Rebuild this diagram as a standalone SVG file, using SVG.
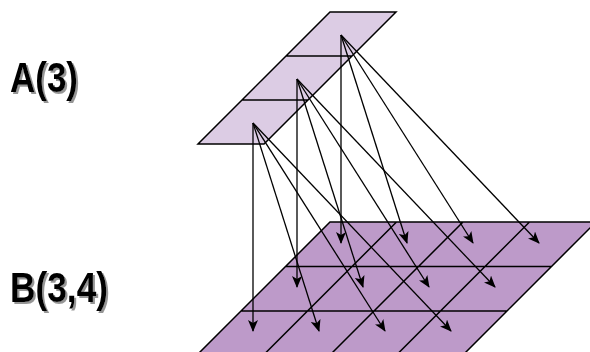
<svg xmlns="http://www.w3.org/2000/svg" width="590" height="352" viewBox="0 0 590 352">
<style>
.lbl{font-family:"Liberation Sans",Arial,sans-serif;font-weight:bold;font-size:42px;fill:#000;filter:url(#shadow)}
.grid{stroke:#000;stroke-width:1.5;fill:none}
.arr{stroke:#000;stroke-width:1.3;fill:none;marker-end:url(#ah)}
</style>
<defs>
<filter id="shadow" x="-10%" y="-20%" width="130%" height="150%">
<feDropShadow dx="2" dy="2" stdDeviation="0.6" flood-color="#8a8a8a" flood-opacity="0.9"/>
</filter>
<marker id="ah" markerUnits="userSpaceOnUse" markerWidth="12" markerHeight="10" viewBox="0 0 12 10" refX="11" refY="5" orient="auto">
<path d="M0,0 L12,5 L0,10 L3,5 z" fill="#000"/>
</marker>
</defs>
<g id="label-A">
<text class="lbl" x="10" y="92" textLength="68" lengthAdjust="spacingAndGlyphs">A(3)</text>
</g>
<g id="label-B">
<text class="lbl" x="10" y="302" textLength="98" lengthAdjust="spacingAndGlyphs">B(3,4)</text>
</g>
<g id="B">
<path d="M330,222 L596,222 L462.5,355.5 L196.5,355.5 Z" fill="#bd9ac9"/>
<path class="grid" d="M330,222 L596,222 L462.5,355.5 L196.5,355.5 Z M285.5,266.5 L551.5,266.5 M241,311 L507,311 M396.5,222 L263,355.5 M463,222 L329.5,355.5 M529.5,222 L396,355.5"/>
</g>
<g id="A">
<path d="M330,12 L396,12 L264,144 L198,144 Z" fill="#dccce4"/>
<path class="grid" d="M330,12 L396,12 L264,144 L198,144 Z M286,56 L352,56 M242,100 L308,100"/>
</g>
<g id="connectors">
<line class="arr" x1="341" y1="35" x2="341" y2="243"/>
<line class="arr" x1="341" y1="35" x2="407" y2="243"/>
<line class="arr" x1="341" y1="35" x2="473" y2="243"/>
<line class="arr" x1="341" y1="35" x2="539" y2="243"/>
<line class="arr" x1="297" y1="79" x2="297" y2="287"/>
<line class="arr" x1="297" y1="79" x2="363" y2="287"/>
<line class="arr" x1="297" y1="79" x2="429" y2="287"/>
<line class="arr" x1="297" y1="79" x2="495" y2="287"/>
<line class="arr" x1="253" y1="123" x2="253" y2="331"/>
<line class="arr" x1="253" y1="123" x2="319" y2="331"/>
<line class="arr" x1="253" y1="123" x2="385" y2="331"/>
<line class="arr" x1="253" y1="123" x2="451" y2="331"/>
</g>
</svg>
